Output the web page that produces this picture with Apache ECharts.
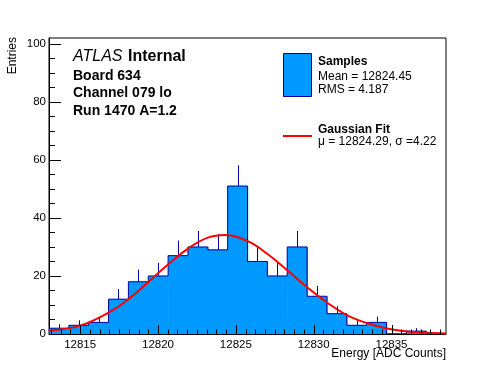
<!DOCTYPE html>
<html><head><meta charset="utf-8">
<script src="https://cdn.jsdelivr.net/npm/echarts@6/dist/echarts.min.js"></script>
<style>html,body{margin:0;padding:0;background:#fff}#c{width:496px;height:372px}</style>
</head><body><div id="c"></div><script>
// ---- data ----
const xMin = 12813.0;
const xMax = 12838.5;
const counts = [2, 3, 4, 12, 18, 20, 27, 30, 29, 51, 25, 20, 30, 13, 7, 3, 4, 0, 1, 0];
const errTop = [3.4, 4.7, 6.0, 15.5, 22.2, 24.5, 32.2, 35.5, 34.4, 58.1, 30.0, 24.5, 35.5, 16.6, 9.6, 4.7, 6.0, 0, 2.0, 0];
const fitX = [12813.0, 12815.0, 12816.9, 12818.1, 12819.4, 12820.7, 12822.0, 12823.2, 12824.3, 12825.8, 12827.1, 12828.3, 12829.6, 12830.9, 12832.2, 12833.5, 12834.7, 12836.0, 12837.3, 12838.5];
const fitY = [1.2, 2.9, 7.6, 12.0, 18.0, 24.2, 29.7, 33.2, 34.1, 31.9, 27.3, 22.0, 16.0, 10.7, 6.3, 3.6, 1.9, 0.9, 0.4, 0.2];
const xTicks = [12815, 12820, 12825, 12830, 12835];
const yTicks = [0, 20, 40, 60, 80, 100];
const yMax = 102;
const headLines = ['Board 634', 'Channel 079 lo', 'Run 1470 A=1.2'];
const samplesLabel = 'Samples';
const samplesStats = ['Mean = 12824.45', 'RMS = 4.187'];
const fitLabel = 'Gaussian Fit';
const fitStats = 'μ = 12824.29, σ =4.22';
const xTitle = 'Energy [ADC Counts]';
const yTitle = 'Entries';

// ---- build ----
const FONT = 'Liberation Sans, Arial, Helvetica, sans-serif';
const FILL = '#0099ff', EDGE = '#000099';
const nb = counts.length;
const bw = (xMax - xMin) / nb;
const hist = counts.map((v, i) => [xMin + i * bw, xMin + (i + 1) * bw, v, errTop[i], i > 0 ? counts[i - 1] : 0, i === nb - 1 ? 1 : 0]);

// tick marks: [kind, value]  kind 0 x-major, 1 x-minor, 2 y-major, 3 y-minor
const tickData = [];
xTicks.forEach(t => tickData.push([0, t]));
for (let t = xTicks[0] - 0.625 * 3; t <= xMax + 1e-9; t += 0.625) {
  const r = +t.toFixed(4);
  if (xTicks.indexOf(r) < 0) tickData.push([1, r]);
}
yTicks.forEach(t => tickData.push([2, t]));
for (let t = 5; t <= yMax; t += 5) if (yTicks.indexOf(t) < 0) tickData.push([3, t]);
const TLEN = [9, 4.5, 12, 6];

function rTick(params, api) {
  const k = api.value(0), v = api.value(1), L = TLEN[k];
  if (k < 2) {
    const p = api.coord([v, 0]);
    const x = Math.round(p[0]) + 0.5;
    return {type: 'line', shape: {x1: x, y1: p[1], x2: x, y2: p[1] - L}, style: {stroke: '#000', lineWidth: 1}};
  }
  const p = api.coord([xMin, v]);
  const y = Math.round(p[1]) + 0.5;
  return {type: 'line', shape: {x1: p[0], y1: y, x2: p[0] + L, y2: y}, style: {stroke: '#000', lineWidth: 1}};
}
function rFill(params, api) {
  const lo = api.value(0), hi = api.value(1), v = api.value(2);
  if (v <= 0) return null;
  const a = api.coord([lo, 0]), b = api.coord([hi, v]);
  return {type: 'rect', shape: {x: a[0], y: b[1], width: b[0] - a[0] + 0.7, height: a[1] - b[1]}, style: {fill: FILL}};
}
function rErr(params, api) {
  const lo = api.value(0), hi = api.value(1), v = api.value(2), e = api.value(3);
  if (e <= v) return null;
  const a = api.coord([(lo + hi) / 2, v]), b = api.coord([(lo + hi) / 2, e]);
  const x = Math.round(a[0]) + 0.5;
  return {type: 'line', shape: {x1: x, y1: a[1], x2: x, y2: b[1]}, style: {stroke: EDGE, lineWidth: 1}};
}
function rEdge(params, api) {
  const lo = api.value(0), hi = api.value(1), v = api.value(2), prev = api.value(4), last = api.value(5);
  const a = api.coord([lo, prev]), b = api.coord([lo, v]), c = api.coord([hi, v]), d = api.coord([hi, 0]);
  const pts = [a, b, c];
  if (last) pts.push(d);
  return {type: 'polyline', shape: {points: pts}, style: {stroke: EDGE, fill: null, lineWidth: 1}};
}

const chart = echarts.init(document.getElementById('c'), null, {renderer: 'canvas'});
const txt = (x, y, text, o) => ({type: 'text', x: x, y: y, style: Object.assign({text: text, fontFamily: FONT, fill: '#000', fontSize: 12, align: 'left', verticalAlign: 'middle'}, o || {})});

chart.setOption({
  animation: false,
  backgroundColor: '#fff',
  grid: {left: 49, top: 38, right: 50, bottom: 38, show: true, borderColor: '#000', borderWidth: 1, backgroundColor: 'transparent'},
  xAxis: {type: 'value', min: xMin, max: xMax,
    axisLine: {show: true, onZero: false, lineStyle: {color: '#000', width: 1}},
    axisTick: {show: false},
    axisLabel: {show: true, customValues: xTicks, formatter: v => String(v), fontFamily: FONT, fontSize: 11.5, color: '#000', margin: 5},
    splitLine: {show: false}},
  yAxis: {type: 'value', min: 0, max: yMax,
    axisLine: {show: true, onZero: false, lineStyle: {color: '#000', width: 1}},
    axisTick: {show: false},
    axisLabel: {show: true, customValues: yTicks, formatter: v => String(v), fontFamily: FONT, fontSize: 11.5, color: '#000', margin: 3},
    splitLine: {show: false}},
  series: [
    {type: 'custom', name: 'fill', data: hist, renderItem: rFill, clip: true, silent: true, z: 2},
    {type: 'custom', name: 'err', data: hist, renderItem: rErr, clip: true, silent: true, z: 3},
    {type: 'custom', name: 'edge', data: hist, renderItem: rEdge, clip: true, silent: true, z: 4},
    {type: 'line', name: 'fit', data: fitX.map((x, i) => [x, fitY[i]]), smooth: 0.4, showSymbol: false, clip: true, silent: true,
      lineStyle: {color: '#ff0000', width: 2}, z: 5},
    {type: 'custom', name: 'ticks', data: tickData, renderItem: rTick, clip: false, silent: true, z: 6}
  ],
  graphic: [
    {type: 'group', children: [
      {type: 'text', x: 73, y: 56.5, style: {text: 'ATLAS', fontFamily: FONT, fontStyle: 'italic', fontSize: 16, fill: '#000', verticalAlign: 'middle'}},
      {type: 'text', x: 128, y: 56.5, style: {text: 'Internal', fontFamily: FONT, fontWeight: 'bold', fontSize: 16, fill: '#000', verticalAlign: 'middle'}},
      txt(73, 76, headLines[0], {fontWeight: 'bold', fontSize: 14}),
      txt(73, 93.5, headLines[1], {fontWeight: 'bold', fontSize: 14}),
      txt(73, 111, headLines[2], {fontWeight: 'bold', fontSize: 14}),
      {type: 'rect', shape: {x: 283.5, y: 53.5, width: 28, height: 43}, style: {fill: FILL, stroke: EDGE, lineWidth: 1}},
      txt(318, 61.5, samplesLabel, {fontWeight: 'bold', fontSize: 12}),
      txt(318, 76.5, samplesStats[0], {fontSize: 12}),
      txt(318, 89.5, samplesStats[1], {fontSize: 12}),
      {type: 'line', shape: {x1: 283, y1: 136, x2: 312, y2: 136}, style: {stroke: '#ff0000', lineWidth: 2}},
      txt(318, 129.5, fitLabel, {fontWeight: 'bold', fontSize: 12}),
      txt(318, 142, fitStats, {fontSize: 12}),
      txt(446, 354, xTitle, {fontSize: 12, align: 'right'}),
      {type: 'text', x: 12.5, y: 37, rotation: Math.PI / 2, style: {text: yTitle, fontFamily: FONT, fontSize: 12, fill: '#000', align: 'right', verticalAlign: 'middle'}}
    ]}
  ]
});
</script></body></html>
